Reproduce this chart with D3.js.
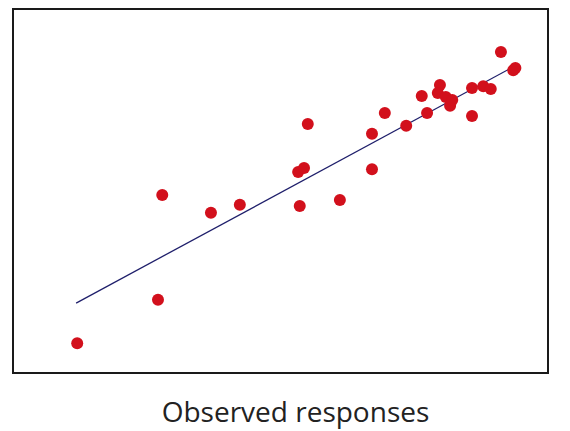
<!DOCTYPE html>
<html>
<head>
<meta charset="utf-8">
<script src="https://cdn.jsdelivr.net/npm/d3@7"></script>
<style>
  html, body { margin: 0; padding: 0; background: #fff; }
  svg { display: block; }
</style>
</head>
<body>
<svg id="chart" width="570" height="431"></svg>
<script>
// Observed (x) vs predicted (y) responses
const observed = [12.0, 27.1, 27.9, 37.0, 42.4, 53.6, 53.3, 54.4, 55.1, 61.1, 67.1, 67.1, 69.5, 73.5,
  76.4, 77.4, 79.8, 79.4, 80.9, 81.7, 82.1, 85.8, 85.8, 87.9, 89.3, 91.2, 93.5, 93.9];
const predicted = [8.2, 20.1, 48.9, 44.0, 46.2, 45.9, 55.2, 56.3, 68.4, 47.5, 56.0, 65.7, 71.4, 67.9,
  76.1, 71.4, 79.1, 76.9, 75.8, 73.4, 75.0, 70.6, 78.3, 78.8, 78.0, 88.2, 83.2, 83.8];
// Fitted line end points
const fitX = [11.8, 93.5];
const fitY = [19.2, 84.1];
const axisLabel = "Observed responses";

const svg = d3.select("#chart");
const box = { left: 13, top: 9, right: 548, bottom: 373 };

const x = d3.scaleLinear().domain([0, 100]).range([box.left, box.right]);
const y = d3.scaleLinear().domain([0, 100]).range([box.bottom, box.top]);

svg.append("rect")
  .attr("x", box.left).attr("y", box.top)
  .attr("width", box.right - box.left).attr("height", box.bottom - box.top)
  .attr("fill", "#fff").attr("stroke", "#1a1a1a").attr("stroke-width", 2);

svg.append("line")
  .attr("x1", x(fitX[0])).attr("y1", y(fitY[0]))
  .attr("x2", x(fitX[1])).attr("y2", y(fitY[1]))
  .attr("stroke", "#1f1f6b").attr("stroke-width", 1.3);

svg.append("g").selectAll("circle")
  .data(observed.map((v, i) => [v, predicted[i]]))
  .join("circle")
  .attr("cx", d => x(d[0])).attr("cy", d => y(d[1]))
  .attr("r", 6)
  .attr("fill", "#d2101c");

svg.append("text")
  .attr("x", (box.left + box.right) / 2 + 15).attr("y", 422)
  .attr("text-anchor", "middle")
  .attr("font-family", "'Open Sans', 'Noto Sans', sans-serif")
  .attr("font-size", 28)
  .attr("fill", "#222")
  .text(axisLabel);
</script>
</body>
</html>
